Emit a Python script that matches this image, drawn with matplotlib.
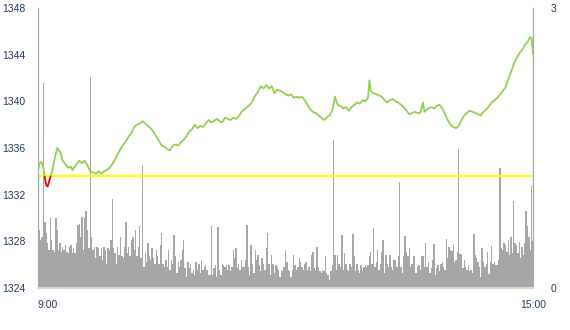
import numpy as np
import matplotlib
matplotlib.use('Agg')
import matplotlib.pyplot as plt
from matplotlib.patches import Rectangle

PREV_CLOSE = 1333.6   # yellow reference line
TIME_LABELS = ['9:00', '15:00']
TIME_TICKS = [0, 360]

# price trace, minutes after 9:00
price_min = [0, 1, 2, 3, 4, 5, 6, 7, 8, 9, 10, 12, 14, 15, 16, 18, 20, 22, 24, 25,
             26, 28, 30, 32, 34, 36, 38, 40, 42, 44, 46, 48, 50, 52, 54, 56, 58, 60, 62, 64,
             66, 68, 70, 72, 74, 76, 78, 80, 82, 84, 86, 88, 90, 92, 94, 96, 98, 100, 102, 104,
             106, 108, 110, 112, 114, 116, 118, 120, 122, 124, 126, 128, 130, 132, 134, 136, 138, 140, 142, 144,
             146, 148, 150, 152, 154, 156, 158, 160, 162, 164, 166, 168, 170, 172, 174, 176, 178, 180, 182, 184,
             186, 188, 190, 192, 194, 196, 198, 200, 202, 204, 206, 208, 210, 212, 214, 216, 217, 218, 220, 222,
             224, 226, 228, 230, 232, 234, 236, 238, 240, 241, 242, 244, 246, 248, 250, 252, 254, 256, 258, 260,
             262, 264, 266, 268, 270, 272, 274, 276, 278, 280, 281, 282, 284, 286, 288, 290, 292, 294, 296, 298,
             300, 302, 304, 306, 308, 310, 312, 314, 316, 318, 320, 322, 324, 326, 328, 330, 332, 334, 336, 338,
             340, 342, 344, 346, 348, 350, 352, 354, 356, 358, 359, 360]
price = [1334.0, 1334.6, 1334.8, 1334.7, 1334.2, 1333.4, 1332.8, 1332.7, 1333.1, 1333.5, 1333.9, 1335.0, 1336.0, 1335.8, 1335.7, 1334.9, 1334.6, 1334.3, 1334.4, 1334.1,
         1334.3, 1334.6, 1334.9, 1334.7, 1334.9, 1334.5, 1334.0, 1333.9, 1333.8, 1334.0, 1333.8, 1334.0, 1334.1, 1334.3, 1334.6, 1335.0, 1335.5, 1335.9, 1336.3, 1336.6,
         1337.0, 1337.3, 1337.8, 1338.0, 1338.1, 1338.3, 1338.1, 1337.9, 1337.7, 1337.4, 1337.0, 1336.6, 1336.2, 1336.1, 1335.9, 1335.8, 1336.2, 1336.3, 1336.2, 1336.5,
         1336.7, 1337.0, 1337.4, 1337.6, 1338.0, 1337.7, 1337.9, 1337.8, 1338.1, 1338.4, 1338.2, 1338.3, 1338.5, 1338.3, 1338.2, 1338.6, 1338.5, 1338.4, 1338.6, 1338.5,
         1338.7, 1339.1, 1339.3, 1339.5, 1339.7, 1340.0, 1340.5, 1340.8, 1341.3, 1341.1, 1341.4, 1341.1, 1341.3, 1340.7, 1341.0, 1340.9, 1340.8, 1340.6, 1340.5, 1340.6,
         1340.3, 1340.4, 1340.3, 1340.4, 1340.1, 1339.7, 1339.3, 1339.1, 1339.0, 1338.8, 1338.6, 1338.4, 1338.6, 1338.8, 1339.2, 1340.4, 1340.0, 1339.7, 1339.6, 1339.4,
         1339.5, 1339.2, 1339.5, 1339.7, 1339.9, 1339.8, 1340.1, 1340.0, 1340.3, 1341.8, 1340.9, 1340.7, 1340.6, 1340.5, 1340.4, 1340.1, 1339.9, 1340.1, 1340.2, 1340.0,
         1339.9, 1339.7, 1339.5, 1339.2, 1338.9, 1339.0, 1339.1, 1339.0, 1339.0, 1339.9, 1339.1, 1339.2, 1339.4, 1339.5, 1339.4, 1339.6, 1339.7, 1339.4, 1338.9, 1338.4,
         1338.0, 1337.8, 1337.7, 1337.9, 1338.4, 1338.8, 1339.0, 1339.2, 1339.1, 1339.0, 1338.9, 1338.8, 1339.1, 1339.3, 1339.6, 1339.9, 1340.1, 1340.3, 1340.6, 1340.9,
         1341.2, 1341.9, 1342.5, 1343.2, 1343.7, 1344.1, 1344.4, 1344.8, 1345.1, 1345.5, 1345.4, 1344.1]

# volume per minute (right axis)
volume = [0.51, 0.62, 0.51, 0.55, 2.20, 0.71, 0.59, 0.48, 0.41, 0.75,
          0.51, 0.41, 0.39, 0.75, 0.62, 0.41, 0.48, 0.39, 0.44, 0.41,
          0.46, 0.39, 0.37, 0.44, 0.46, 0.37, 0.43, 0.37, 0.48, 0.68,
          0.69, 0.55, 0.76, 0.41, 0.75, 0.82, 0.62, 0.43, 2.26, 0.55,
          0.41, 0.44, 0.32, 0.44, 0.43, 0.34, 0.43, 0.30, 0.44, 0.41,
          0.26, 0.43, 0.41, 0.51, 0.95, 0.43, 0.37, 0.26, 0.44, 0.35,
          0.55, 0.34, 0.32, 0.44, 0.71, 0.37, 0.44, 0.34, 0.51, 0.55,
          0.41, 0.62, 0.34, 0.44, 0.66, 0.32, 1.32, 0.23, 0.37, 0.28,
          0.48, 0.34, 0.30, 0.43, 0.32, 0.26, 0.41, 0.34, 0.26, 0.46,
          0.59, 0.26, 0.23, 0.30, 0.23, 0.41, 0.19, 0.30, 0.26, 0.57,
          0.34, 0.16, 0.28, 0.23, 0.30, 0.41, 0.51, 0.21, 0.12, 0.28,
          0.21, 0.26, 0.16, 0.19, 0.14, 0.28, 0.19, 0.26, 0.16, 0.30,
          0.19, 0.23, 0.25, 0.19, 0.14, 0.14, 0.66, 0.14, 0.21, 0.25,
          0.12, 0.65, 0.19, 0.14, 0.26, 0.25, 0.23, 0.25, 0.19, 0.25,
          0.18, 0.23, 0.41, 0.32, 0.43, 0.21, 0.26, 0.19, 0.30, 0.23,
          0.23, 0.30, 0.68, 0.23, 0.14, 0.46, 0.26, 0.16, 0.41, 0.30,
          0.35, 0.25, 0.18, 0.32, 0.26, 0.19, 0.43, 0.59, 0.26, 0.14,
          0.35, 0.26, 0.16, 0.25, 0.23, 0.19, 0.12, 0.19, 0.18, 0.23,
          0.41, 0.28, 0.19, 0.18, 0.12, 0.19, 0.35, 0.25, 0.19, 0.23,
          0.32, 0.28, 0.23, 0.19, 0.26, 0.28, 0.19, 0.23, 0.18, 0.35,
          0.39, 0.21, 0.19, 0.44, 0.23, 0.18, 0.16, 0.19, 0.18, 0.34,
          0.16, 0.14, 0.09, 0.18, 0.25, 1.59, 0.35, 0.19, 0.35, 0.26,
          0.23, 0.57, 0.19, 0.37, 0.26, 0.19, 0.18, 0.26, 0.23, 0.58,
          0.34, 0.18, 0.26, 0.19, 0.16, 0.25, 0.18, 0.23, 0.25, 0.23,
          0.25, 0.34, 0.39, 0.26, 0.64, 0.23, 0.28, 0.41, 0.19, 0.26,
          0.39, 0.51, 0.16, 0.35, 0.26, 0.23, 0.35, 0.23, 0.19, 0.30,
          0.30, 0.23, 0.34, 1.14, 0.23, 0.16, 0.34, 0.56, 0.39, 0.34,
          0.43, 0.23, 0.26, 0.34, 0.34, 0.16, 0.23, 0.25, 0.19, 0.34,
          0.34, 0.23, 0.48, 0.23, 0.28, 0.16, 0.21, 0.30, 0.47, 0.14,
          0.21, 0.25, 0.18, 0.26, 0.28, 0.23, 0.19, 0.53, 0.32, 0.44,
          0.41, 0.40, 0.46, 0.28, 0.30, 0.39, 1.49, 0.36, 0.36, 0.21,
          0.30, 0.23, 0.19, 0.25, 0.18, 0.19, 0.16, 0.58, 0.35, 0.32,
          0.28, 0.23, 0.12, 0.43, 0.28, 0.23, 0.26, 0.39, 0.15, 0.28,
          0.45, 0.26, 0.28, 0.25, 0.25, 0.30, 1.29, 0.43, 0.41, 0.48,
          0.46, 0.39, 0.51, 0.35, 0.55, 0.37, 0.93, 0.48, 0.46, 0.37,
          0.49, 0.32, 0.44, 0.35, 0.48, 0.82, 0.66, 0.55, 0.41, 1.09,
          0.50]

LABEL_COLOR = '#1f3864'
plt.rcParams['font.family'] = ['Liberation Sans', 'DejaVu Sans']

fig = plt.figure(figsize=(5.7, 3.3), dpi=100)
ax = fig.add_axes([38/570, 42/330, 495/570, 280/330])
ax2 = ax.twinx()

# volume bars behind, price on top
ax2.bar(np.arange(len(volume)), volume, width=1.0, color='#a6a6a6', linewidth=0, antialiased=False)
ax2.set_ylim(0, 3)
ax2.set_yticks([0, 3])
ax.set_zorder(ax2.get_zorder() + 1)
ax.patch.set_visible(False)

ax.axhline(PREV_CLOSE, color='#ffff00', lw=1.5, zorder=2)
up, = ax.plot(price_min, price, color='#92d050', lw=1.3, zorder=3)
dn, = ax.plot(price_min, price, color='#ff0000', lw=1.3, zorder=3)
up.set_clip_path(Rectangle((0, PREV_CLOSE), 360, 30, transform=ax.transData))
dn.set_clip_path(Rectangle((0, PREV_CLOSE - 30), 360, 30, transform=ax.transData))

ax.set_xlim(0, 360)
ax.set_ylim(1324, 1348)
ax.set_yticks(range(1324, 1349, 4))
ax.set_xticks(TIME_TICKS)
ax.set_xticklabels(TIME_LABELS)
ax.get_xticklabels()[0].set_horizontalalignment('left')

for a in (ax, ax2):
    a.spines['top'].set_visible(False)
    a.spines['left'].set_color('#a6a6a6')
    a.spines['right'].set_color('#a6a6a6')
    a.spines['bottom'].set_color('#d9d9d9')
    a.spines['bottom'].set_linewidth(1.5)
ax.tick_params(axis='y', length=0, pad=9, labelsize=7.5, labelcolor=LABEL_COLOR)
ax.tick_params(axis='x', length=0, pad=9, labelsize=7.5, labelcolor=LABEL_COLOR)
ax2.tick_params(axis='y', length=0, pad=13, labelsize=7.5, labelcolor=LABEL_COLOR)

fig.savefig('out.png', dpi=100)
